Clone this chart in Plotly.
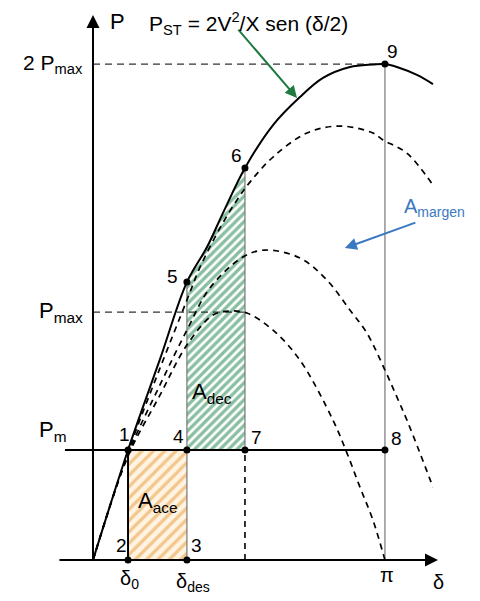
import plotly.graph_objects as go

# Curva P-delta (delta en grados, P en unidades de Pmax)
delta_st = [0, 21.6, 41.3, 57.9, 70.3, 80.1, 93.7, 111.0, 127.6, 141.8, 158.4, 172.6, 180, 187.4, 199.7, 209.6]
p_st = [0, 0.444, 0.810, 1.121, 1.262, 1.399, 1.581, 1.754, 1.867, 1.944, 1.988, 1.998, 2.0, 1.988, 1.956, 1.919]

# curvas discontinuas (post-falla)
delta_c1 = [0, 21.6, 41.3, 57.9, 66.0, 78.3, 88.8, 96.8, 111.0, 131.9, 152.3, 172.6, 178.8, 193.5, 209.6]
p_c1 = [0, 0.435, 0.774, 1.048, 1.181, 1.339, 1.452, 1.524, 1.625, 1.722, 1.750, 1.722, 1.694, 1.641, 1.512]
delta_c2 = [0, 21.6, 41.3, 57.9, 72.1, 92.5, 106.0, 127.6, 144.2, 158.4, 168.9, 180, 187.4, 193.5, 201.6, 209.6]
p_c2 = [0, 0.427, 0.706, 0.927, 1.097, 1.222, 1.250, 1.218, 1.129, 1.008, 0.915, 0.766, 0.657, 0.565, 0.431, 0.294]
delta_c3 = [0, 21.6, 41.3, 57.9, 74.0, 84.4, 94.9, 111.0, 127.6, 147.9, 156.6, 164.6, 172.6, 180]
p_c3 = [0, 0.419, 0.665, 0.867, 0.988, 1.004, 0.996, 0.927, 0.806, 0.565, 0.431, 0.294, 0.161, 0]

# valores característicos
d0, ddes, dcl, dpi = 21.6, 57.9, 93.7, 180
pm, pmax, p2max = 0.444, 1.0, 2.0

# puntos numerados 1..9
pt_x = [d0, d0, ddes, ddes, ddes, dcl, dcl, dpi, dpi]
pt_y = [pm, 0, 0, pm, 1.121, 1.581, pm, pm, p2max]
pt_lab = ["1", "2", "3", "4", "5", "6", "7", "8", "9"]
pt_dx = [-4, -7, 10, -8, -14, -8, 12, 12, 8]
pt_dy = [15, 15, 15, 13, 6, 12, 12, 11, 13]

FONT = "Liberation Sans, Arial, sans-serif"
fig = go.Figure()

# area de aceleracion
fig.add_trace(go.Scatter(
    x=[d0, ddes, ddes, d0, d0], y=[0, 0, pm, pm, 0], mode="none", fill="toself",
    fillcolor="#FFF3E2",
    fillpattern=dict(shape="/", fgcolor="#E59A35", bgcolor="#FFF3E2", size=8, solidity=0.4),
    hoverinfo="skip"))

# area de desaceleracion, limitada por la curva entre 5 y 6
seg = [i for i, d in enumerate(delta_st) if ddes <= d <= dcl]
gx = [ddes] + [delta_st[i] for i in seg] + [dcl, ddes]
gy = [pm] + [p_st[i] for i in seg] + [pm, pm]
fig.add_trace(go.Scatter(
    x=gx, y=gy, mode="none", fill="toself", fillcolor="white",
    fillpattern=dict(shape="/", fgcolor="#137F44", bgcolor="white", size=6, solidity=0.55),
    hoverinfo="skip"))


def seg_line(x, y, color="black", width=2, dash="solid"):
    fig.add_trace(go.Scatter(x=x, y=y, mode="lines", hoverinfo="skip",
                             line=dict(color=color, width=width, dash=dash)))


# lineas auxiliares
seg_line([0, dpi], [p2max, p2max], "#333", 1.2, "7px,5px")
seg_line([0, dcl], [pmax, pmax], "#333", 1.2, "7px,5px")
seg_line([-17.3, dpi], [pm, pm], "black", 2)
seg_line([dpi, dpi], [0, p2max], "#777", 1.2)
seg_line([d0, d0], [0, pm], "black", 2)
seg_line([ddes, ddes], [0, 1.121], "#777", 1.2)
seg_line([dcl, dcl], [pm, 1.581], "#777", 1.2)
seg_line([dcl, dcl], [0, pm], "black", 1.6, "6px,5px")

# curvas
for dx, py in [(delta_c1, p_c1), (delta_c2, p_c2), (delta_c3, p_c3)]:
    fig.add_trace(go.Scatter(x=dx, y=py, mode="lines", line_shape="spline", hoverinfo="skip",
                             line=dict(color="black", width=1.7, dash="6px,5px")))
fig.add_trace(go.Scatter(x=delta_st, y=p_st, mode="lines", line_shape="spline", hoverinfo="skip",
                         line=dict(color="black", width=2)))

# puntos
fig.add_trace(go.Scatter(x=pt_x, y=pt_y, mode="markers", hoverinfo="skip",
                         marker=dict(color="black", size=7)))

ann = []
for x, y, t, dx, dy in zip(pt_x, pt_y, pt_lab, pt_dx, pt_dy):
    ann.append(dict(x=x, y=y, text=t, showarrow=False, xshift=dx, yshift=dy,
                    font=dict(size=19, color="black")))

# ejes con flechas
ann.append(dict(x=0, y=2.198, ax=0, ay=0, axref="x", ayref="y", text="", showarrow=True,
                arrowhead=2, arrowsize=1.3, arrowwidth=2, arrowcolor="black", standoff=0))
ann.append(dict(x=212.7, y=0, ax=-21.6, ay=0, axref="x", ayref="y", text="", showarrow=True,
                arrowhead=2, arrowsize=1.3, arrowwidth=2, arrowcolor="black", standoff=0))

# flechas de comentario
ann.append(dict(x=125.8, y=1.863, ax=88.8, ay=2.145, axref="x", ayref="y", text="", showarrow=True,
                arrowhead=2, arrowsize=1.2, arrowwidth=2, arrowcolor="#1E7A40", standoff=0))
ann.append(dict(x=155.3, y=1.258, ax=199.7, ay=1.363, axref="x", ayref="y", text="", showarrow=True,
                arrowhead=2, arrowsize=1.2, arrowwidth=2, arrowcolor="#3A78C2", standoff=0))

# textos
textos = [
    (9, 2.17, "P", "left", 22, "black"),
    (33.5, 2.163, "P<sub>ST</sub> = 2V<sup>2</sup>/X sen (δ/2)", "left", 21, "black"),
    (-5, p2max, "2 P<sub>max</sub>", "right", 21, "black"),
    (-5, pmax, "P<sub>max</sub>", "right", 22, "black"),
    (-24.5, pm + 0.075, "P<sub>m</sub>", "center", 22, "black"),
    (d0 + 1, -0.08, "δ<sub>0</sub>", "center", 20, "black"),
    (ddes + 4, -0.09, "δ<sub>des</sub>", "center", 20, "black"),
    (dpi + 1, -0.06, "π", "center", 20, "black"),
    (213, -0.09, "δ", "center", 20, "black"),
    (40, 0.235, "A<sub>ace</sub>", "center", 22, "black"),
    (73.5, 0.675, "A<sub>dec</sub>", "center", 22, "black"),
    (190.5, 1.42, "A<sub>margen</sub>", "left", 20, "#3A78C2"),
]
for x, y, t, xa, s, c in textos:
    ann.append(dict(x=x, y=y, text=t, showarrow=False, xanchor=xa,
                    font=dict(size=s, color=c)))

# la pagina deja 8 px de margen: la figura ocupa 472x593
fig.update_layout(
    width=472, height=593, margin=dict(l=0, r=0, t=0, b=0),
    paper_bgcolor="white", plot_bgcolor="white", showlegend=False,
    font=dict(family=FONT, color="black"),
    xaxis=dict(range=[-52.4, 238.6], visible=False, fixedrange=True),
    yaxis=dict(range=[-0.165, 2.226], visible=False, fixedrange=True),
    annotations=ann,
)

fig.write_html("out.html")
